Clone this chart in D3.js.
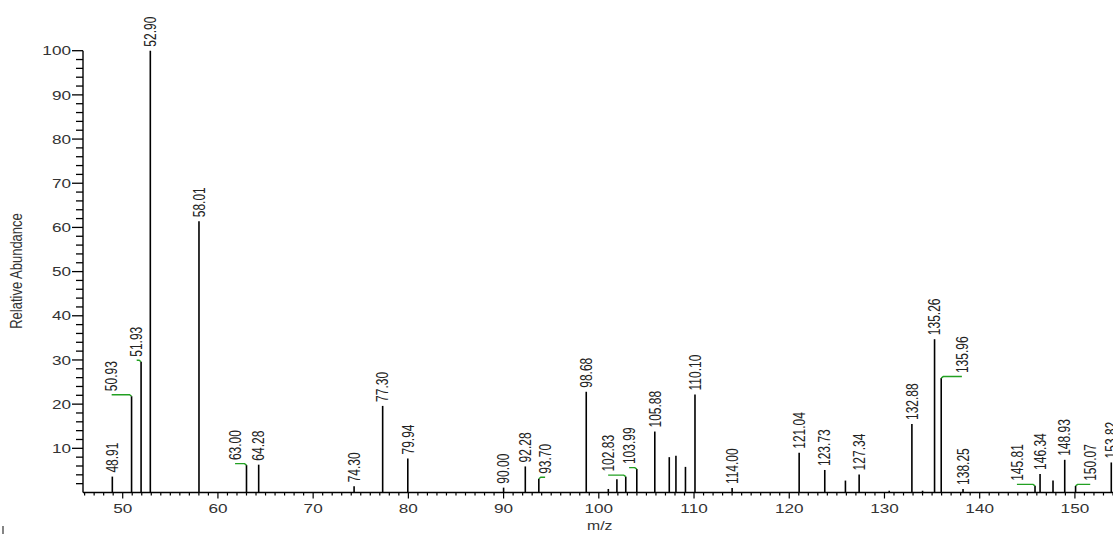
<!DOCTYPE html>
<html>
<head>
<meta charset="utf-8">
<script src="https://cdn.jsdelivr.net/npm/d3@7"></script>
<style>
  body { margin: 0; background: #fff; }
  svg { display: block; }
</style>
</head>
<body>
<svg id="chart" width="1113" height="534"></svg>
<script>
// Centroided mass spectrum: m/z of each peak and its relative abundance (%)
const mzValues = [48.91, 50.93, 51.93, 52.90, 58.01, 63.00, 64.28, 74.30, 77.30, 79.94,
  90.00, 92.28, 93.70, 98.68, 101.00, 101.90, 102.83, 103.99, 105.88, 107.40,
  108.10, 109.10, 110.10, 114.00, 121.04, 123.73, 125.90, 127.34, 130.50, 132.88,
  134.00, 135.26, 135.96, 138.25, 145.81, 146.34, 147.70, 148.93, 150.07, 153.82];
const abundance = [3.6, 21.8, 29.6, 100, 61.4, 6.2, 6.3, 1.4, 19.6, 7.7,
  1.1, 5.9, 3.1, 22.8, 0.8, 3.0, 3.6, 5.3, 13.8, 8.0,
  8.3, 5.8, 22.2, 1.0, 9.0, 5.1, 2.7, 4.1, 0.4, 15.5,
  0.4, 34.7, 25.9, 0.8, 1.5, 4.2, 2.7, 7.4, 1.5, 6.8];
// Which peaks carry an m/z annotation
const labelled = [1, 1, 1, 1, 1, 1, 1, 1, 1, 1,
  1, 1, 1, 1, 0, 0, 1, 1, 1, 0,
  0, 0, 1, 1, 1, 1, 0, 1, 0, 1,
  0, 1, 1, 1, 1, 1, 0, 1, 1, 1];
// Annotations moved aside to avoid overlap: peak m/z and where its label sits (m/z)
const shiftedPeaks = [50.93, 51.93, 63.00, 93.70, 102.83, 103.99, 135.96, 145.81, 150.07];
const shiftedLabelAt = [48.84, 51.47, 61.80, 94.36, 100.98, 103.18, 138.13, 143.91, 151.61];
// Axis ticks
const yTickLabels = [10, 20, 30, 40, 50, 60, 70, 80, 90, 100];
const xTickLabels = [50, 60, 70, 80, 90, 100, 110, 120, 130, 140, 150];

const SX = 1.32;            // horizontal glyph stretch of the instrument software output
const FONT = "'Liberation Sans', Arial, sans-serif";

const svg = d3.select("#chart");
const x = d3.scaleLinear().domain([45.83, 154.0]).range([83, 1113]);
const y = d3.scaleLinear().domain([0, 100]).range([492.5, 50.7]);

// ---- Y axis ----
const yMinor = d3.range(2, 101, 2);
const gy = svg.append("g").attr("transform", `translate(${x.range()[0]},0)`);
gy.append("line").attr("x1", 0).attr("x2", 0)
  .attr("y1", y(0)).attr("y2", y(100)).attr("stroke", "#000").attr("stroke-width", 1.4);
gy.selectAll("line.tick").data(yMinor).join("line").attr("class", "tick")
  .attr("x1", d => yTickLabels.includes(d) ? -11 : -7).attr("x2", 0)
  .attr("y1", d => y(d)).attr("y2", d => y(d))
  .attr("stroke", "#000").attr("stroke-width", 1.3);
gy.selectAll("text").data(yTickLabels).join("text")
  .attr("transform", d => `translate(-12,${y(d)}) scale(${SX},1)`)
  .attr("dy", "0.36em").attr("text-anchor", "end")
  .attr("font-family", FONT).attr("font-size", 13).attr("fill", "#333")
  .text(d => d);

// ---- X axis ----
const xMinor = d3.range(46, 155, 1);
const gx = svg.append("g").attr("transform", `translate(0,${y(0)})`);
gx.append("line").attr("x1", x.range()[0]).attr("x2", x.range()[1])
  .attr("y1", 0).attr("y2", 0).attr("stroke", "#000").attr("stroke-width", 1.4);
gx.selectAll("line.tick").data(xMinor).join("line").attr("class", "tick")
  .attr("x1", d => x(d)).attr("x2", d => x(d))
  .attr("y1", 0).attr("y2", d => d % 10 === 0 ? 6 : 3)
  .attr("stroke", "#000").attr("stroke-width", 1.2);
gx.selectAll("text").data(xTickLabels).join("text")
  .attr("transform", d => `translate(${x(d)},16) scale(${SX},1)`)
  .attr("dy", "0.36em").attr("text-anchor", "middle")
  .attr("font-family", FONT).attr("font-size", 13).attr("fill", "#333")
  .text(d => d);

// ---- Axis titles ----
svg.append("text")
  .attr("transform", `translate(22,271) scale(${SX},1) rotate(-90)`)
  .attr("text-anchor", "middle")
  .attr("font-family", FONT).attr("font-size", 13).attr("fill", "#333")
  .text("Relative Abundance");
svg.append("text")
  .attr("transform", `translate(${x(100.1)},530) scale(${SX},1)`)
  .attr("text-anchor", "middle")
  .attr("font-family", FONT).attr("font-size", 12).attr("fill", "#333")
  .text("m/z");
svg.append("line").attr("x1", 3).attr("x2", 3).attr("y1", 526).attr("y2", 534)
  .attr("stroke", "#333").attr("stroke-width", 1.2);

// ---- Peaks ----
const peaks = mzValues.map((m, i) => ({ mz: m, ab: abundance[i], lab: labelled[i] === 1 }));
svg.append("g").selectAll("line").data(peaks).join("line")
  .attr("x1", d => x(d.mz)).attr("x2", d => x(d.mz))
  .attr("y1", y(0)).attr("y2", d => y(d.ab))
  .attr("stroke", "#000").attr("stroke-width", 1.6);

// ---- Peak annotations ----
const labelPos = d => {
  const k = shiftedPeaks.indexOf(d.mz);
  return k >= 0 ? shiftedLabelAt[k] : d.mz;
};
const annotated = peaks.filter(d => d.lab);

// green leaders for annotations that were moved aside
svg.append("g").selectAll("path").data(annotated.filter(d => shiftedPeaks.includes(d.mz))).join("path")
  .attr("d", d => {
    const px = x(d.mz), py = y(d.ab), lx = x(labelPos(d));
    const dir = lx < px ? -1 : 1;
    return `M${px},${py} L${px + dir * 2},${py - 1.5} L${lx},${py - 1.5}`;
  })
  .attr("fill", "none").attr("stroke", "#22a022").attr("stroke-width", 1.4);

svg.append("g").selectAll("text").data(annotated).join("text")
  .attr("transform", d => {
    const shifted = shiftedPeaks.includes(d.mz);
    return `translate(${x(labelPos(d))},${y(d.ab) - (shifted ? 5 : 4)}) scale(${SX},1) rotate(-90)`;
  })
  .attr("dy", "0.36em").attr("text-anchor", "start")
  .attr("font-family", FONT).attr("font-size", 12).attr("fill", "#222")
  .text(d => d.mz.toFixed(2));
</script>
</body>
</html>
